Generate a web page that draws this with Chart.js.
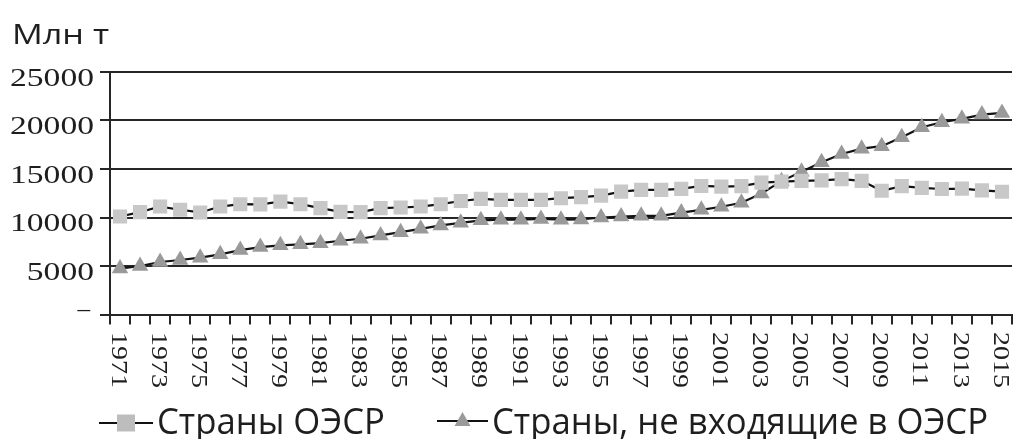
<!DOCTYPE html>
<html>
<head>
<meta charset="utf-8">
<script src="https://cdn.jsdelivr.net/npm/chart.js@4"></script>
<style>
  html, body { margin: 0; padding: 0; background: #fff; }
  #wrap { width: 1022px; height: 439px; position: relative; }
  .fprobe { position: absolute; left: -9999px; top: 0; font-size: 20px; }
</style>
</head>
<body>
<div id="wrap"><canvas id="c" width="1022" height="439"></canvas></div>
<span class="fprobe" style="font-family:'Liberation Serif'">2015 Млн</span>
<span class="fprobe" style="font-family:'Open Sans'">Страны 2015</span>
<script>
// ---- data ----
const years = ['1971','1972','1973','1974','1975','1976','1977','1978','1979','1980',
  '1981','1982','1983','1984','1985','1986','1987','1988','1989','1990',
  '1991','1992','1993','1994','1995','1996','1997','1998','1999','2000',
  '2001','2002','2003','2004','2005','2006','2007','2008','2009','2010',
  '2011','2012','2013','2014','2015'];
const oecd = [10100,10550,11130,10800,10520,11130,11370,11350,11640,11370,
  10960,10580,10550,10960,11030,11130,11370,11700,11920,11820,
  11820,11820,11990,12100,12260,12670,12850,12850,12950,13250,
  13180,13230,13600,13700,13780,13820,13950,13780,12760,13230,
  13060,12940,12970,12800,12660];
const nonOecd = [4730,5000,5410,5620,5860,6200,6640,6950,7130,7230,
  7350,7600,7810,8150,8490,8830,9180,9450,9710,9780,
  9780,9850,9780,9800,10000,10100,10170,10170,10510,10790,
  11110,11520,12480,13750,14710,15690,16550,17100,17350,18270,
  19300,19820,20170,20610,20780];
const xTickLabels = ['1971','1973','1975','1977','1979','1981','1983','1985','1987','1989',
  '1991','1993','1995','1997','1999','2001','2003','2005','2007','2009','2011','2013','2015'];
const yTickValues = [0,5000,10000,15000,20000,25000];
const yTickLabels = ['–','5000','10000','15000','20000','25000'];
const seriesNames = ['Страны ОЭСР','Страны, не входящие в ОЭСР'];
const unitTitle = 'Млн т';

// ---- styles ----
const INK = '#1e1e1e';
const GRID = '#262626';
const SQ = '#c8c8c8';
const TRI = '#9a9a9a';
const SERIF = '"Liberation Serif", "Times New Roman", Tinos, "DejaVu Serif", serif';
const SANS = '"Open Sans", "Noto Sans", sans-serif';

function scaledText(ctx, text, x, y, font, sx, align, baseline, rot) {
  ctx.save();
  ctx.font = font;
  ctx.fillStyle = INK;
  ctx.textAlign = align || 'left';
  ctx.textBaseline = baseline || 'alphabetic';
  ctx.translate(x, y);
  if (rot) ctx.rotate(rot);
  ctx.scale(sx[0], sx[1]);
  ctx.fillText(text, 0, 0);
  ctx.restore();
}

const textPlugin = {
  id: 'textPlugin',
  afterDraw(chart) {
    const ctx = chart.ctx;
    const xs = chart.scales.x, ys = chart.scales.y;

    // title
    ctx.save();
    const tFont = '28px ' + SANS;
    ctx.font = tFont;
    const tsx = 97 / ctx.measureText(unitTitle).width;
    ctx.restore();
    scaledText(ctx, unitTitle, 12, 43.5, tFont, [tsx, 1], 'left');

    // y tick labels
    ctx.save();
    const yFont = '25px ' + SERIF;
    ctx.font = yFont;
    const ysx = 84 / ctx.measureText('25000').width;
    ctx.restore();
    yTickValues.forEach((v, i) => {
      const py = ys.getPixelForValue(v);
      const lbl = yTickLabels[i];
      if (lbl === '–') {
        scaledText(ctx, lbl, 90, py - 4, yFont, [ysx * 0.75, 1], 'right', 'middle');
      } else {
        scaledText(ctx, lbl, 94, py + 13.5, yFont, [ysx, 1], 'right', 'alphabetic');
      }
    });

    // x tick labels, rotated clockwise (read top to bottom)
    const xFont = '28px ' + SERIF;
    xTickLabels.forEach(lbl => {
      const idx = years.indexOf(lbl);
      const px = xs.getPixelForValue(idx) - 2.5;
      scaledText(ctx, lbl, px, 332, xFont, [1, 0.8], 'left', 'middle', Math.PI / 2);
    });

    // legend
    ctx.save();
    const lFont = '36px ' + SANS;
    ctx.font = lFont;
    const lsx = 496 / ctx.measureText(seriesNames[1]).width;
    ctx.restore();

    ctx.save();
    ctx.strokeStyle = '#111';
    ctx.lineWidth = 2;
    ctx.beginPath();
    ctx.moveTo(99, 423); ctx.lineTo(153, 423);
    ctx.moveTo(437, 421); ctx.lineTo(488, 421);
    ctx.stroke();
    ctx.fillStyle = '#bdbdbd';
    ctx.fillRect(117, 414.5, 18, 17);
    ctx.fillStyle = TRI;
    ctx.beginPath();
    ctx.moveTo(462.5, 412); ctx.lineTo(470.5, 426); ctx.lineTo(454.5, 426); ctx.closePath();
    ctx.fill();
    ctx.restore();

    scaledText(ctx, seriesNames[0], 157, 434, lFont, [lsx, 1], 'left');
    scaledText(ctx, seriesNames[1], 492, 434, lFont, [lsx, 1], 'left');
  }
};

const chart = new Chart(document.getElementById('c'), {
  type: 'line',
  data: {
    labels: years,
    datasets: [
      {
        label: seriesNames[0], data: oecd,
        borderColor: '#111', borderWidth: 2.2, tension: 0,
        pointStyle: 'rect', pointRadius: 10, pointBorderWidth: 0,
        pointBackgroundColor: SQ, pointBorderColor: SQ
      },
      {
        label: seriesNames[1], data: nonOecd,
        borderColor: '#111', borderWidth: 2.2, tension: 0,
        pointStyle: 'triangle', pointRadius: 9.5, pointBorderWidth: 0,
        pointBackgroundColor: TRI, pointBorderColor: TRI
      }
    ]
  },
  options: {
    responsive: false,
    animation: false,
    devicePixelRatio: 1,
    layout: { padding: { left: 0, right: 9, top: 72, bottom: 0 } },
    plugins: { legend: { display: false }, title: { display: false }, tooltip: { enabled: false } },
    scales: {
      x: {
        offset: true,
        grid: { offset: true, drawOnChartArea: false, drawTicks: true, tickLength: 10, color: GRID, lineWidth: 2 },
        border: { display: true, color: GRID, width: 2 },
        ticks: { display: false },
        afterFit(s) { s.height = 124.5; }
      },
      y: {
        min: 0, max: 25000,
        ticks: { display: false, stepSize: 5000 },
        grid: { color: GRID, lineWidth: 2, drawTicks: true, tickLength: 10 },
        border: { display: true, color: GRID, width: 2 },
        afterFit(s) { s.width = 110; }
      }
    }
  },
  plugins: [textPlugin]
});

if (document.fonts) {
  Promise.all([
    document.fonts.load('25px "Liberation Serif"'),
    document.fonts.load('28px "Open Sans"')
  ]).then(() => chart.draw()).catch(() => {});
  document.fonts.ready.then(() => chart.draw());
}
</script>
</body>
</html>
